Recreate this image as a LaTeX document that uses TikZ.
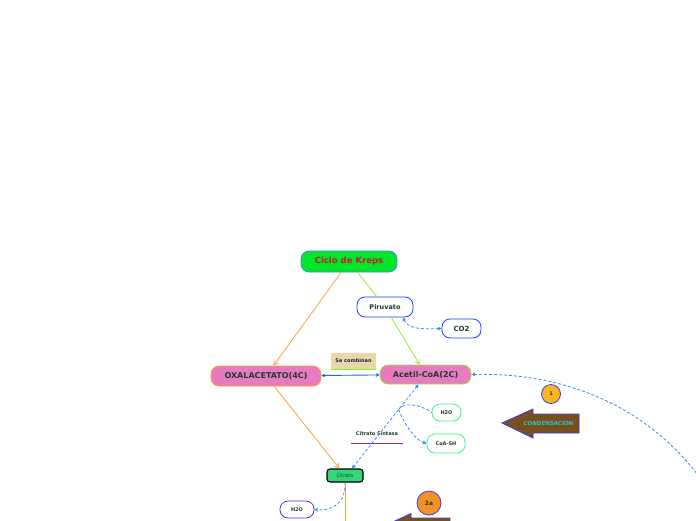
\documentclass[tikz,border=0pt]{standalone}
\usepackage{fontspec}
\setmainfont{DejaVu Sans}
\usepackage{tikz}
\usetikzlibrary{shapes,arrows.meta,calc}

\definecolor{kgreen}{RGB}{0,230,40}
\definecolor{kframe}{RGB}{60,140,220}
\definecolor{kred}{RGB}{210,20,60}
\definecolor{ktext}{RGB}{30,60,50}
\definecolor{kblue}{RGB}{30,60,255}
\definecolor{kpink}{RGB}{232,122,192}
\definecolor{korange}{RGB}{255,160,50}
\definecolor{klime}{RGB}{150,235,50}
\definecolor{ktan}{RGB}{232,216,168}
\definecolor{knavy}{RGB}{30,30,70}
\definecolor{kmint}{RGB}{50,215,120}
\definecolor{kaqua}{RGB}{60,245,130}
\definecolor{kpurple}{RGB}{100,40,240}
\definecolor{kdash}{RGB}{60,140,230}
\definecolor{kdeep}{RGB}{20,110,225}
\definecolor{kindigo}{RGB}{60,60,230}
\definecolor{kamber}{RGB}{250,180,30}
\definecolor{kbrown}{RGB}{120,80,30}
\definecolor{kcyan}{RGB}{30,200,210}
\definecolor{kflame}{RGB}{243,145,35}

\begin{document}
\begin{tikzpicture}[x=1pt, y=-1pt,
    box/.style={draw, rounded corners=8pt, inner sep=0pt, line width=0.8pt, text=ktext,
        font=\bfseries\fontsize{6.5}{7}\selectfont},
    small/.style={font=\bfseries\fontsize{5}{6}\selectfont},
    tree/.style={line width=0.8pt},
    barb/.style={-{Straight Barb[length=4pt,width=5pt]}},
    link/.style={draw=kdash, line width=0.8pt, dash pattern=on 3pt off 2pt},
    ktip/.tip={Stealth[length=4pt,width=4pt]}]
    \useasboundingbox (0,0) rectangle (696,520);
    \clip (0,0) rectangle (696,520);

    % main boxes
    \node[box, fill=kgreen, draw=kframe, text=kred, minimum width=96, minimum height=21,
        font=\bfseries\fontsize{8.5}{9}\selectfont] (ciclo) at (349,261.5) {Ciclo de Kreps};
    \node[box, fill=white, draw=kblue, minimum width=56, minimum height=20] (piru) at (385,307) {Piruvato};
    \node[box, fill=white, draw=kblue, minimum width=39, minimum height=19,
        font=\bfseries\fontsize{7}{8}\selectfont] (co2) at (461.5,328.5) {CO2};
    \node[box, fill=kpink, draw=korange, minimum width=110, minimum height=20,
        font=\bfseries\fontsize{8}{9}\selectfont] (oxal) at (266,376) {OXALACETATO(4C)};
    \node[box, fill=kpink, draw=klime, minimum width=91, minimum height=19,
        font=\bfseries\fontsize{8}{9}\selectfont] (acetil) at (425.5,374.5) {Acetil-CoA(2C)};
    \node[fill=ktan, minimum width=45, minimum height=16, inner sep=0pt, text=knavy, small] (comb) at (353.5,361) {Se combinan};
    \draw[klime, line width=1pt] (comb.south west) -- (comb.south east);

    % citrato
    \node[box, fill=kmint, draw=black, line width=1.1pt, rounded corners=3pt, minimum width=36, minimum height=13,
        font=\fontsize{5}{6}\selectfont] (cit) at (345,475.5) {Citrato};
    \node[box, fill=white, draw=kaqua, minimum width=29, minimum height=17, small] (h2oa) at (446.5,412.5) {H2O};
    \node[box, fill=white, draw=kaqua, minimum width=38, minimum height=19, small] (coa) at (446,443.5) {CoA-SH};
    \node[box, fill=white, draw=kpurple, minimum width=34, minimum height=17, small] (h2ob) at (297,509.5) {H2O};
    \node[text=ktext, minimum width=52, minimum height=18, inner sep=0pt, small] (sint) at (377,434) {Citrato Sintasa};
    \draw[kpurple, line width=1pt] (sint.south west) -- (sint.south east);

    % tree lines
    \draw[tree, korange, barb] (ciclo) -- (oxal);
    \draw[tree, klime] (ciclo) -- (piru);
    \draw[tree, klime, barb] (piru) -- (acetil);
    \draw[tree, korange, barb] (oxal) -- (cit);
    \coordinate (down) at (345,530);
    \draw[tree, korange] (cit.south) -- (down);
    \draw[kdeep, line width=0.9pt, {ktip}-{ktip}] (oxal) -- (acetil);

    % dashed links
    \draw[link, {ktip}-{ktip}] (piru.-30) .. controls (408,330) and (425,329) .. (co2.west);
    \coordinate (top) at ($(acetil.south)+(-7,0)$);
    \coordinate (bot) at ($(cit.north)+(7,0)$);
    \draw[link, {ktip}-{ktip}] (top) -- (bot);
    \coordinate (br) at ($(top)!0.3!(bot)$);
    \draw[link] (br) .. controls (403,402) and (420,404) .. (h2oa.west);
    \draw[link, -{ktip}] (br) .. controls (405,425) and (415,440) .. (coa.west);
    \draw[link, -{ktip}] (cit.south) .. controls (346,505) and (330,511) .. (h2ob.east);
    \coordinate (far) at (700,478);
    \draw[link, {ktip}-] (acetil.east) .. controls (570,372) and (650,410) .. (far);

    % condensacion
    \node[circle, draw=kindigo, fill=kamber, line width=0.8pt, minimum size=19, inner sep=0pt, text=ktext, small] (one) at (551,394) {1};
    \draw[kindigo, fill=kbrown, line width=0.9pt] (502,423) -- (533,409) -- (533,414) -- (579,414)
        -- (579,433) -- (533,433) -- (533,438) -- cycle;
    \node[text=kcyan, font=\bfseries\itshape\fontsize{5.5}{6}\selectfont] (cond) at (548.5,423) {CONDENSACION};
    \node[circle, draw=kindigo, fill=kflame, line width=0.8pt, minimum size=24, inner sep=0pt, text=ktext,
        font=\bfseries\fontsize{6}{7}\selectfont] (twoa) at (429,503) {2a};
    \draw[kindigo, fill=kbrown, line width=0.9pt] (380,528) -- (411,513.5) -- (411,518) -- (450,518)
        -- (450,538) -- (411,538) -- (411,542) -- cycle;
\end{tikzpicture}
\end{document}
